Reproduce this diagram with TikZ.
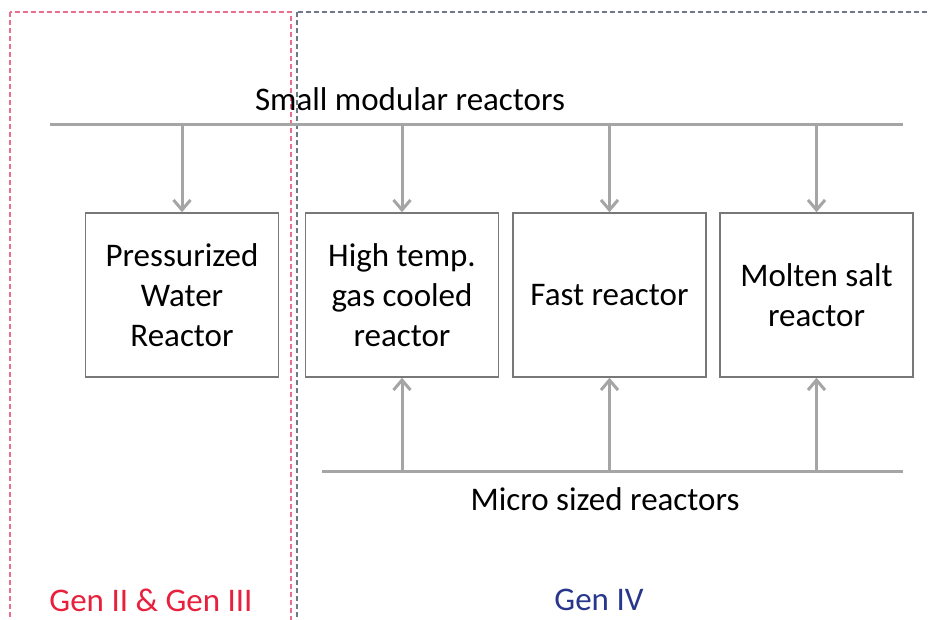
\documentclass[tikz,border=0pt]{standalone}
\usepackage{fontspec}
\setmainfont{Carlito}
\usetikzlibrary{arrows.meta}
\definecolor{linegray}{RGB}{165,165,165}
\definecolor{boxgray}{RGB}{120,120,120}
\definecolor{genred}{RGB}{232,32,60}
\definecolor{genblue}{RGB}{40,55,140}
\definecolor{dashred}{RGB}{235,110,140}
\definecolor{dashblue}{RGB}{110,120,140}
\tikzset{
  reactor/.style={draw=boxgray, line width=1.5pt, minimum width=193pt, minimum height=164pt,
    align=center, font=\fontsize{33}{40}\selectfont, inner sep=2pt},
  busline/.style={draw=linegray, line width=3pt},
  feed/.style={draw=linegray, line width=3pt, -{Straight Barb[length=10pt,width=17pt,line width=3pt]}},
  label/.style={font=\fontsize{33}{40}\selectfont},
  zone/.style={line width=1.4pt, dash pattern=on 5pt off 3pt}
}
\begin{document}
\begin{tikzpicture}[x=1pt,y=-1pt]
\useasboundingbox (0,0) rectangle (928,620);
\clip (0,0) rectangle (928,620);
\fill[white] (0,0) rectangle (928,620);
% zones
\draw[zone, draw=dashred] (10,12) rectangle (291,640);
\draw[zone, draw=dashblue] (297,12) rectangle (960,640);
% boxes
\node[reactor] (pwr) at (182,295) {Pressurized\\Water\\Reactor};
\node[reactor] (htgr) at (402,295) {High temp.\\gas cooled\\reactor};
\node[reactor] (fast) at (609.5,295) {Fast reactor};
\node[reactor] (msr) at (816.5,295) {Molten salt\\reactor};
% top bus
\coordinate (tl) at (50,125);
\coordinate (tr) at (903,125);
\draw[busline] (tl) -- (tr);
\node[label] (smr) at (410,99) {Small modular reactors};
\foreach \b in {pwr,htgr,fast,msr}{
  \draw[feed] (\b.north |- tl) -- (\b.north);
}
% bottom bus
\coordinate (bl) at (322,471);
\coordinate (br) at (903,471);
\draw[busline] (bl) -- (br);
\node[label] (micro) at (605,499) {Micro sized reactors};
\foreach \b in {htgr,fast,msr}{
  \draw[feed] (\b.south |- bl) -- (\b.south);
}
% gen labels
\node[label, text=genred] (g23) at (151,600) {Gen II \& Gen III};
\node[label, text=genblue] (g4) at (599,600) {Gen IV};
\end{tikzpicture}
\end{document}
